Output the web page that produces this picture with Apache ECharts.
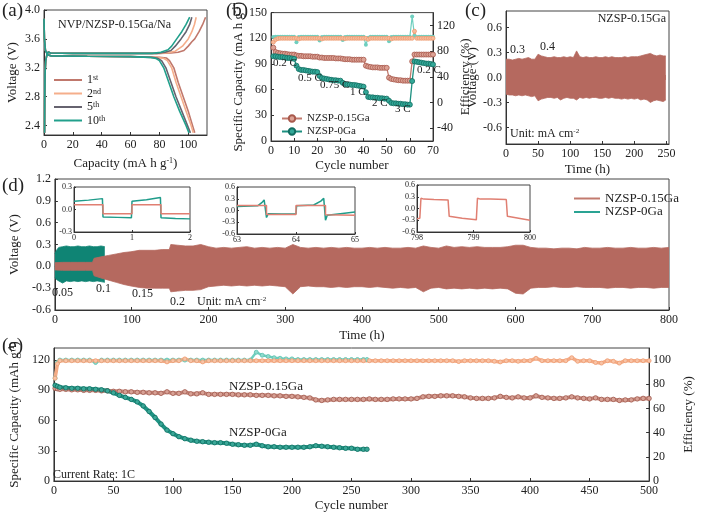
<!DOCTYPE html>
<html><head><meta charset="utf-8">
<script src="https://cdn.jsdelivr.net/npm/echarts@6/dist/echarts.min.js"></script>
<style>html,body{margin:0;padding:0;background:#fff}#c{width:703px;height:513px}</style>
</head><body><div id="c"></div>
<script>
// ---------- (a) charge/discharge profiles [capacity, voltage] ----------
const a1c = [[0.4,2.3],[0.5,2.75],[0.7,3.1],[1.2,3.3],[2,3.38],[3,3.42],[4.5,3.405],[20,3.4],[50,3.4],[80,3.4],[88,3.405],[93,3.415],[97,3.44],[100,3.5],[102.5,3.56],[104.5,3.6],[107.5,3.7],[110,3.8],[112,3.9]];
const a1d = [[0,3.88],[0.3,3.6],[1,3.44],[2.5,3.38],[5,3.365],[30,3.36],[60,3.355],[80,3.345],[85,3.335],[87,3.3],[90,3.2],[93,3.0],[96.5,2.8],[100,2.6],[103,2.4],[104.5,2.3]];
const a2c = [[0.4,2.3],[0.5,2.75],[0.7,3.1],[1.2,3.3],[2,3.38],[3,3.42],[4.5,3.405],[20,3.4],[50,3.4],[80,3.4],[86,3.41],[91,3.43],[96,3.5],[100,3.6],[102.5,3.7],[104.3,3.8],[105.5,3.9]];
const a2d = [[0,3.88],[0.3,3.6],[1,3.44],[2.5,3.38],[5,3.365],[30,3.36],[60,3.355],[78,3.345],[83,3.33],[85.5,3.3],[88.5,3.2],[91.5,3.0],[95,2.8],[98.5,2.6],[102,2.4],[103.5,2.3]];
const a5c = [[0.4,2.3],[0.5,2.75],[0.7,3.1],[1.2,3.3],[2,3.38],[3,3.42],[4.5,3.405],[20,3.4],[50,3.4],[78,3.4],[84,3.415],[88,3.44],[91,3.5],[95,3.6],[98.5,3.7],[101,3.8],[102.5,3.9]];
const a5d = [[0,3.88],[0.3,3.6],[1,3.44],[2.5,3.38],[5,3.365],[30,3.36],[60,3.355],[75,3.345],[79,3.33],[81.5,3.3],[84.5,3.2],[88,3.0],[91.5,2.8],[95.5,2.6],[99.5,2.4],[101.5,2.3]];
const a10c = [[0.4,2.3],[0.5,2.75],[0.7,3.1],[1.2,3.3],[2,3.38],[3,3.42],[4.5,3.405],[20,3.4],[50,3.4],[75,3.4],[81,3.415],[86,3.45],[88.5,3.5],[92,3.6],[95.5,3.7],[98.5,3.8],[101,3.9]];
const a10d = [[0,3.88],[0.3,3.6],[1,3.44],[2.5,3.38],[5,3.365],[30,3.36],[60,3.355],[73,3.345],[77.5,3.33],[80,3.3],[83,3.2],[86.5,3.0],[90,2.8],[94,2.6],[98.5,2.4],[100.5,2.3]];
const aCycles = ['1st','2nd','5th','10th'];

// ---------- (b) rate performance ----------
const cycleB = Array.from({length:70},(_,i)=>i+1);
const capB015 = [109,104,103,102.5,102,102,101.5,101,101,101,
 100,99.5,99.5,99,99,99,99,98.5,98.5,98.5,
 97.5,97.5,97,97,97,97,97,96.5,96.5,96.5,
 96,95.5,95.5,95.5,95,95,95,95,95,95,
 88,87,86.5,86,86,86,85.5,85.5,85.5,85.5,
 74,72.5,72,71.5,71,71,70.5,70.5,70.5,70.5,
 93,101,101,101,101,101,101,101,101,101];
const capB0 = [99,99,98.5,98,98,97.5,97,97,96.5,96,
 88,84,83,83,82.5,82,81.5,81,81,80.5,
 76,73.5,73,72.5,72,71.5,71,71,70.5,70.5,
 68,66.5,66,66,65.5,65.5,65,64.5,64,63.5,
 57,51.5,51,51,50.5,50.5,50,50,49.5,49.5,
 47,44.5,44,44,43.5,43.5,43,43,42.5,42.5,
 70,93,92.5,92,91.5,91,90.5,90.5,90,89.5];
const effB015 = [94,98,99.5,100,100,100,100,100,100,100,
 100,99,100,100,100,100,100,100,100,100,
 100,99,100,100,100,100,100,100,100,100,
 100,99.5,100,100,100,100,100,100,100,100,
 100,98.5,100,100,100,100,100,100,100,100,
 100,99,100,100,100,100,100,100,100,100,
 100,111,100,100,100,100,100,100,100,100];
const effB0 = [102,102.5,102.5,102.5,102.5,102.5,102.5,102.5,102.5,102.5,
 94,102,102.5,102.5,102.5,102.5,102.5,102.5,102.5,102.5,
 96.5,102,102.5,102.5,102.5,102.5,102.5,102.5,102.5,102.5,
 97.5,102,102.5,102.5,102.5,102.5,102.5,102.5,102.5,102.5,
 90,101,102.5,102.5,102.5,102.5,102.5,102.5,102.5,102.5,
 95.5,102,102.5,102.5,102.5,102.5,102.5,102.5,102.5,102.5,
 134,104,102,102.5,102.5,102.5,102.5,102.5,102.5,102.5];
const rateLabels = ['0.2 C','0.5 C','0.75 C','1 C','2 C','3 C','0.2 C'];

// ---------- (c) symmetric cell envelope ----------
const timeC = [0,5,10,15,20,25,30,35,40,45,50,55,60,65,70,75,80,85,90,95,100,105,110,115,120,125,130,135,140,145,150,155,160,165,170,175,180,185,190,195,200,205,210,215,220,225,230,235,240,245,249];
const upC = [0.22,0.22,0.21,0.22,0.23,0.22,0.23,0.24,0.22,0.22,
 0.28,0.26,0.25,0.24,0.24,0.25,0.24,0.24,0.25,0.24,
 0.25,0.24,0.32,0.25,0.24,0.25,0.24,0.24,0.25,0.24,
 0.24,0.25,0.24,0.25,0.24,0.24,0.24,0.25,0.24,0.25,
 0.25,0.25,0.26,0.27,0.28,0.29,0.27,0.26,0.27,0.26,0.26];
const loC = [-0.20,-0.21,-0.21,-0.22,-0.21,-0.22,-0.21,-0.22,-0.23,-0.22,
 -0.28,-0.26,-0.25,-0.24,-0.24,-0.25,-0.24,-0.27,-0.25,-0.24,
 -0.25,-0.25,-0.27,-0.24,-0.25,-0.24,-0.25,-0.24,-0.24,-0.25,
 -0.25,-0.24,-0.25,-0.24,-0.25,-0.25,-0.26,-0.25,-0.26,-0.25,
 -0.26,-0.25,-0.27,-0.26,-0.27,-0.30,-0.28,-0.27,-0.28,-0.29,-0.27];

// ---------- (d) long-term cycling envelopes ----------
const timeD0 = [0,2,5,10,15,20,25,30,35,40,45,50,55,60,65];
const upD0 = [0.17,0.22,0.26,0.27,0.28,0.27,0.27,0.28,0.27,0.27,0.28,0.27,0.27,0.28,0.27];
const loD0 = [-0.15,-0.18,-0.2,-0.23,-0.2,-0.21,-0.2,-0.21,-0.2,-0.21,-0.2,-0.21,-0.2,-0.21,-0.22];
const timeD15 = [0,10,20,30,40,49,51,60,70,80,90,99,101,110,120,130,140,149,151,
 160,170,180,190,200,210,220,230,240,250,260,270,280,290,300,310,320,330,340,350,
 360,370,380,390,400,410,420,430,440,450,460,470,480,490,500,510,520,530,540,550,
 560,570,580,590,600,610,620,630,640,650,660,670,680,690,700,710,720,730,740,750,
 760,770,780,790,800];
const upD15 = [0.05,0.055,0.055,0.055,0.055,0.055,0.11,0.13,0.15,0.17,0.19,0.2,0.21,0.22,0.22,0.22,0.23,0.23,0.3,
 0.29,0.28,0.28,0.3,0.27,0.25,0.26,0.25,0.26,0.27,0.25,0.26,0.25,0.26,0.25,0.3,0.26,0.25,0.26,0.25,
 0.26,0.25,0.26,0.25,0.25,0.26,0.25,0.26,0.25,0.25,0.26,0.25,0.28,0.26,0.25,0.28,0.26,0.27,0.26,0.27,
 0.26,0.26,0.26,0.27,0.29,0.29,0.26,0.25,0.25,0.24,0.25,0.25,0.24,0.26,0.25,0.25,0.26,0.25,0.25,0.26,
 0.25,0.25,0.26,0.25,0.26];
const loD15 = [-0.05,-0.055,-0.055,-0.055,-0.055,-0.055,-0.13,-0.16,-0.19,-0.22,-0.25,-0.27,-0.28,-0.29,-0.3,-0.3,-0.3,-0.3,-0.35,
 -0.34,-0.33,-0.33,-0.32,-0.28,-0.27,-0.26,-0.27,-0.26,-0.27,-0.26,-0.27,-0.26,-0.27,-0.28,-0.38,-0.28,-0.27,-0.28,-0.28,
 -0.29,-0.28,-0.29,-0.28,-0.28,-0.29,-0.28,-0.29,-0.3,-0.29,-0.3,-0.29,-0.35,-0.3,-0.29,-0.31,-0.3,-0.31,-0.3,-0.31,
 -0.3,-0.31,-0.3,-0.31,-0.37,-0.38,-0.3,-0.29,-0.29,-0.28,-0.29,-0.29,-0.28,-0.29,-0.29,-0.29,-0.3,-0.29,-0.29,-0.3,
 -0.29,-0.29,-0.3,-0.29,-0.29];
const currentLabels = ['0.05','0.1','0.15','0.2'];
// insets [time, voltage]
const ins1T = [[0,0.11],[0.25,0.125],[0.49,0.145],[0.5,-0.1],[0.75,-0.105],[0.99,-0.11],[1,0.11],[1.25,0.13],[1.49,0.16],[1.5,-0.11],[1.75,-0.12],[2,-0.125]];
const ins1B = [[0,0.065],[0.5,0.065],[0.5,-0.055],[1,-0.055],[1,0.065],[1.5,0.065],[1.5,-0.055],[2,-0.055]];
const ins2T = [[63,0.1],[63.35,0.12],[63.42,0.2],[63.46,0.27],[63.49,0.25],[63.5,-0.18],[63.53,-0.08],[63.75,-0.09],[64,-0.08],[64.01,0.12],[64.3,0.14],[64.42,0.24],[64.47,0.31],[64.49,0.28],[64.5,-0.25],[64.53,-0.12],[64.75,-0.08],[65,-0.04]];
const ins2B = [[63,0.13],[63.5,0.13],[63.5,-0.1],[64,-0.1],[64,0.13],[64.5,0.13],[64.5,-0.11],[65,-0.12]];
const ins3B = [[798,-0.26],[798.05,-0.25],[798.07,0.26],[798.12,0.24],[798.3,0.23],[798.55,0.22],[798.57,-0.2],[798.8,-0.25],[799.05,-0.29],[799.07,0.26],[799.12,0.24],[799.3,0.24],[799.58,0.23],[799.6,-0.2],[799.8,-0.25],[800,-0.3]];

// ---------- (e) long cycling at 1C ----------
const cycE = [1,3].concat(Array.from({length:100},(_,i)=>5*(i+1)));
const capE015 = [92,91.5,91,91,90.5,90.5,90,90,90,89.5,
 89.5,89,89,88.5,88.5,88,88,87.5,87.5,87,
 88.5,87,87,88.5,86.5,86.5,87.5,86,86,86,
 86,86,85.5,85.5,85.5,85,85,85,84.5,84.5,
 84,84,83.5,83,82.5,80.5,80,80.5,81,81,
 81,81,81,81,81.5,81,81,81,81.5,81.5,
 81.5,81.5,82,83.5,84,84,84.5,84.5,84.5,84,
 83.5,82.5,82,82,82,82.5,84,83,82.5,83.5,
 82.5,82.5,84.5,83,82.5,82,82,82.5,83.5,82.5,
 82,81.5,82.5,81,81,81,80,80.5,80.5,81.5,
 82,82];
const effE015 = [85,97,99.5,99.5,99.5,99.5,99.5,99.5,99.5,99.5,
 99.5,99.5,99.5,99.5,99.5,99.5,99.5,99.5,99.5,99.5,
 98.5,99.5,99.5,101,99.5,99.5,98.5,99.5,99.5,99.5,
 99.5,99.5,99.5,99.5,99.5,99.5,99.5,99.5,99.5,99.5,
 99.5,99.5,99.5,99.5,99.5,99.5,99.5,99.5,99.5,99.5,
 99.5,99.5,99.5,99.5,99.5,99.5,99.5,99.5,99.5,99.5,
 99.5,99.5,99.5,99.5,99.5,99.5,99.5,99.5,99.5,98.8,
 99.5,99.5,99.5,99.5,99.5,99,98.5,99.5,99.5,99,
 99.5,99.5,101.5,99.5,99.5,99.5,99.5,99.5,102,99,
 99.5,99.5,98,97.5,99.5,99,97.5,99.5,99.5,99.5,
 99.5,99.5];
const cycE0 = [1,3].concat(Array.from({length:52},(_,i)=>5*(i+1))).concat([263]);
const capE0 = [95,94,93,92.5,92,92,91.5,91.5,91,90.5,
 89.5,87.5,85,83,81,78.5,74.5,69,63,56.5,
 50.5,47,44,42,40.5,39.5,39,38.5,38,38,
 37.5,36.5,36,35.5,35.5,36.5,35,34,34,33.5,
 33.5,33.5,33.5,33.5,34,35,34.5,34,33.5,33,
 32.5,32.5,31.5,31.5,31.5];
const effE0 = [85,98,100,100,100,100,100,100,98,100,
 100,100,100,100,100,100,100,100,100,100,
 100,100,100,100,100,100,100,100,100,100,
 100,100,100,100,100,106.5,104,103,102,101.5,
 101,101,100.5,100.5,100.5,100.5,100.5,100.5,100.5,100.5,
 100.5,100.5,100.5,100.5,100.5];

// ---------- styling ----------
const F = 'Liberation Serif';
const INK = '#222';
const C_BROWN = '#b5695f', C_ORANGE = '#f3a57e', C_LTEAL = '#6fcfbf', C_GRAY = '#66636f';
const SUP = { s: { fontSize: 8, verticalAlign: 'top', lineHeight: 9, fontFamily: F, color: INK } };
const pair = (xs, ys) => xs.map((x, i) => [x, ys[i]]);

function vAxis(o) {
  const base = {
    type: 'value', scale: false,
    axisLine: { show: true, onZero: false, lineStyle: { color: '#333', width: 1 } },
    axisTick: { show: true, inside: true, length: 3, lineStyle: { color: '#333' } },
    axisLabel: { color: INK, fontFamily: F, fontSize: 12, margin: 4 },
    splitLine: { show: false },
    nameLocation: 'middle',
    nameTextStyle: { fontFamily: F, fontSize: 13, color: INK, rich: SUP }
  };
  const r = Object.assign({}, base, o);
  r.axisLabel = Object.assign({}, base.axisLabel, o.axisLabel || {});
  r.axisTick = Object.assign({}, base.axisTick, o.axisTick || {});
  return r;
}
const f1 = v => v.toFixed(1);
const gridBox = (left, top, width, height) => ({ left, top, width, height, show: true, borderColor: '#444', borderWidth: 1, backgroundColor: '#fff' });

const grids = [
  gridBox(44, 10, 163, 125),     // 0 a
  gridBox(271, 9, 162, 132),     // 1 b
  gridBox(506, 11, 163, 133),    // 2 c
  gridBox(43, 179, 626, 131),    // 3 d
  gridBox(74, 187, 116, 45),     // 4 inset1
  gridBox(237, 187, 118, 47),    // 5 inset2
  gridBox(417, 185, 113, 47),    // 6 inset3
  gridBox(43, 348, 626, 134)     // 7 e
];
const insLab = { fontSize: 8, margin: 2 };
const xAxes = [
  vAxis({ gridIndex: 0, min: 0, max: 113, name: 'Capacity (mA h g{s|-1})', nameGap: 22, axisLabel: { customValues: [0,20,40,60,80,100] }, axisTick: { customValues: [0,20,40,60,80,100] } }),
  vAxis({ gridIndex: 1, min: 0, max: 70, interval: 10, name: 'Cycle number', nameGap: 18 }),
  vAxis({ gridIndex: 2, min: 0, max: 254, name: 'Time (h)', nameGap: 19, axisLabel: { customValues: [0,50,100,150,200,250] }, axisTick: { customValues: [0,50,100,150,200,250] } }),
  vAxis({ gridIndex: 3, min: 0, max: 800, interval: 100, name: 'Time (h)', nameGap: 19 }),
  vAxis({ gridIndex: 4, min: 0, max: 2, interval: 1, axisLabel: insLab, axisTick: { length: 2 } }),
  vAxis({ gridIndex: 5, min: 63, max: 65, interval: 1, axisLabel: insLab, axisTick: { length: 2 } }),
  vAxis({ gridIndex: 6, min: 798, max: 800, interval: 1, axisLabel: insLab, axisTick: { length: 2 } }),
  vAxis({ gridIndex: 7, min: 0, max: 500, interval: 50, name: 'Cycle number', nameGap: 18 })
];
const yAxes = [
  vAxis({ gridIndex: 0, min: 2.27, max: 4.0, name: 'Voltage (V)', nameGap: 25, axisLabel: { formatter: f1, customValues: [2.4,2.8,3.2,3.6,4.0] }, axisTick: { customValues: [2.4,2.8,3.2,3.6,4.0] } }),
  vAxis({ gridIndex: 1, min: 0, max: 150, interval: 30, name: 'Specific Capacity (mA h g{s|-1})', nameGap: 22 }),
  vAxis({ gridIndex: 1, position: 'right', min: -60, max: 140, name: 'Efficiency (%)', nameGap: 24, axisLabel: { customValues: [-40,0,40,80,120] }, axisTick: { customValues: [-40,0,40,80,120] } }),
  vAxis({ gridIndex: 2, min: -0.8, max: 0.8, name: 'Voltage (V)', nameGap: 22, axisLabel: { formatter: f1, customValues: [-0.6,-0.3,0,0.3,0.6] }, axisTick: { customValues: [-0.6,-0.3,0,0.3,0.6] } }),
  vAxis({ gridIndex: 3, min: -0.6, max: 1.2, interval: 0.3, name: 'Voltage (V)', nameGap: 24, axisLabel: { formatter: f1 } }),
  vAxis({ gridIndex: 4, min: -0.3, max: 0.3, interval: 0.3, axisLabel: Object.assign({ formatter: f1 }, insLab), axisTick: { length: 2 } }),
  vAxis({ gridIndex: 5, min: -0.6, max: 0.6, interval: 0.3, axisLabel: Object.assign({ formatter: f1 }, insLab), axisTick: { length: 2 } }),
  vAxis({ gridIndex: 6, min: -0.6, max: 0.6, interval: 0.3, axisLabel: Object.assign({ formatter: f1 }, insLab), axisTick: { length: 2 } }),
  vAxis({ gridIndex: 7, min: 0, max: 132, name: 'Specific Capacity (mAh g{s|-1})', nameGap: 22, axisLabel: { customValues: [0,30,60,90,120] }, axisTick: { customValues: [0,30,60,90,120] } }),
  vAxis({ gridIndex: 7, position: 'right', min: 0, max: 110, name: 'Efficiency (%)', nameGap: 23, axisLabel: { customValues: [0,20,40,60,80,100] }, axisTick: { customValues: [0,20,40,60,80,100] } })
];

const series = [];
// (a)
const aSets = [[a1c,a1d,'#c0786c'],[a2c,a2d,'#f5ae8b'],[a5c,a5d,C_GRAY],[a10c,a10d,'#22a08c']];
aSets.forEach((s, i) => {
  [s[0], s[1]].forEach(d => series.push({ type: 'line', name: aCycles[i], xAxisIndex: 0, yAxisIndex: 0, data: d, showSymbol: false, symbol: 'none', lineStyle: { color: s[2], width: 1.6 }, itemStyle: { color: s[2] }, z: 3 + i }));
});
// (b)
series.push({ type: 'line', name: 'effB0', xAxisIndex: 1, yAxisIndex: 2, data: pair(cycleB, effB0), symbol: 'circle', symbolSize: 4, lineStyle: { color: C_LTEAL, width: 1.2 }, itemStyle: { color: C_LTEAL } });
series.push({ type: 'line', name: 'effB015', xAxisIndex: 1, yAxisIndex: 2, data: pair(cycleB, effB015), symbol: 'circle', symbolSize: 4, lineStyle: { color: C_ORANGE, width: 1.2 }, itemStyle: { color: '#f7bb9c', borderColor: '#ee9a70', borderWidth: 0.8 } });
series.push({ type: 'line', name: 'NZSP-0.15Ga', xAxisIndex: 1, yAxisIndex: 1, data: pair(cycleB, capB015), symbol: 'circle', symbolSize: 5, lineStyle: { color: '#c27a6e', width: 1.3 }, itemStyle: { color: '#dca295', borderColor: '#a8594c', borderWidth: 0.8 } });
series.push({ type: 'line', name: 'NZSP-0Ga', xAxisIndex: 1, yAxisIndex: 1, data: pair(cycleB, capB0), symbol: 'circle', symbolSize: 5, lineStyle: { color: '#1d9080', width: 1.3 }, itemStyle: { color: '#33a898', borderColor: '#136e62', borderWidth: 0.8 } });
// envelope bands: upper and lower envelopes, each filled past the 0 V line (overlap hides the seam)
const band = (name, xi, yi, ts, up, lo, color) => {
  [['_hi', up, -0.03], ['_lo', lo, 0.03]].forEach(([suf, vals, org]) => series.push({
    type: 'line', name: name + suf, xAxisIndex: xi, yAxisIndex: yi, data: pair(ts, vals),
    showSymbol: false, symbol: 'none', lineStyle: { color, width: 0.8 }, areaStyle: { color, opacity: 1, origin: org }
  }));
};
band('c', 2, 3, timeC, upC, loC, C_BROWN);
band('d0', 3, 4, timeD0, upD0, loD0, '#0f8474');
band('d15', 3, 4, timeD15, upD15, loD15, C_BROWN);
series.push({ type: 'line', name: 'NZSP-0.15Ga ', xAxisIndex: 3, yAxisIndex: 4, data: [], lineStyle: { color: '#c27a6e', width: 2 }, itemStyle: { color: '#c27a6e' }, symbol: 'none' });
series.push({ type: 'line', name: 'NZSP-0Ga ', xAxisIndex: 3, yAxisIndex: 4, data: [], lineStyle: { color: '#2aa393', width: 2 }, itemStyle: { color: '#2aa393' }, symbol: 'none' });
// insets
const insLine = (xi, yi, d, color) => series.push({ type: 'line', name: 'ins' + xi + color, xAxisIndex: xi, yAxisIndex: yi, data: d, showSymbol: false, symbol: 'none', lineStyle: { color, width: 1.5 } });
insLine(4, 5, ins1T, '#1f9c8a'); insLine(4, 5, ins1B, '#e07f72');
insLine(5, 6, ins2T, '#1f9c8a'); insLine(5, 6, ins2B, '#e07f72');
insLine(6, 7, ins3B, '#e07f72');
// (e)
series.push({ type: 'line', name: 'effE0', xAxisIndex: 7, yAxisIndex: 9, data: pair(cycE0, effE0), symbol: 'circle', symbolSize: 4, lineStyle: { color: C_LTEAL, width: 2.5 }, itemStyle: { color: '#8edbcd', borderColor: '#5cc1b0', borderWidth: 0.8 } });
series.push({ type: 'line', name: 'effE015', xAxisIndex: 7, yAxisIndex: 9, data: pair(cycE, effE015), symbol: 'circle', symbolSize: 4, lineStyle: { color: '#f4ab85', width: 3.5 }, itemStyle: { color: '#f8c3a6', borderColor: '#ef9d72', borderWidth: 0.8 } });
series.push({ type: 'line', name: 'capE015', xAxisIndex: 7, yAxisIndex: 8, data: pair(cycE, capE015), symbol: 'circle', symbolSize: 4.5, lineStyle: { color: '#c68679', width: 4 }, itemStyle: { color: '#d8a195', borderColor: '#9f5a4f', borderWidth: 0.8 } });
series.push({ type: 'line', name: 'capE0', xAxisIndex: 7, yAxisIndex: 8, data: pair(cycE0, capE0), symbol: 'circle', symbolSize: 4.5, lineStyle: { color: '#1f9484', width: 4 }, itemStyle: { color: '#3aa898', borderColor: '#0f6c60', borderWidth: 0.8 } });

const legText = { fontFamily: F, fontSize: 12, color: INK };
const legends = [
  { data: aCycles, orient: 'vertical', left: 49, top: 69, icon: 'rect', itemWidth: 28, itemHeight: 2, itemGap: 1.5, selectedMode: false,
    textStyle: Object.assign({ rich: SUP }, legText), formatter: n => n.replace(/^(\d+)(\D+)$/, '$1{s|$2}') },
  { data: ['NZSP-0.15Ga','NZSP-0Ga'], orient: 'vertical', left: 276, top: 108, itemWidth: 20, itemHeight: 8, itemGap: 2, selectedMode: false,
    textStyle: Object.assign({}, legText, { fontSize: 11 }) },
  { data: ['NZSP-0.15Ga ','NZSP-0Ga '], orient: 'vertical', left: 569, top: 187, icon: 'rect', itemWidth: 26, itemHeight: 2, itemGap: 0.5, selectedMode: false,
    textStyle: Object.assign({}, legText, { fontSize: 13 }) }
];

const T = (x, y, text, size, align) => ({ type: 'text', x, y, silent: true, z: 100,
  style: { text, fontFamily: F, fontSize: size, fill: INK, align: align || 'left', verticalAlign: 'middle',
    rich: { s: { fontSize: Math.round(size * 0.62), verticalAlign: 'top', lineHeight: size * 0.75, fontFamily: F, fill: INK } } } });
const graphics = [
  T(2, 11, '(a)', 19), T(226, 11, '(b)', 19), T(465, 11, '(c)', 19), T(2, 186, '(d)', 19), T(2, 346, '(e)', 19),
  T(58, 25, 'NVP/NZSP-0.15Ga/Na', 12),
  T(273, 63, rateLabels[0], 11), T(298, 78, rateLabels[1], 11), T(320, 85, rateLabels[2], 11), T(350, 92, rateLabels[3], 11),
  T(372, 103, rateLabels[4], 11), T(395, 109, rateLabels[5], 11), T(417, 70, rateLabels[6], 11),
  T(666, 19, 'NZSP-0.15Ga', 12, 'right'), T(510, 50, '0.3', 12), T(540, 47, '0.4', 12), T(510, 134, 'Unit: mA cm{s|-2}', 12),
  T(52, 293, currentLabels[0], 12), T(96, 289, currentLabels[1], 12), T(132, 294, currentLabels[2], 12), T(170, 302, currentLabels[3], 12),
  T(197, 302, 'Unit: mA cm{s|-2}', 12),
  T(229, 387, 'NZSP-0.15Ga', 13), T(229, 433, 'NZSP-0Ga', 13), T(53, 475, 'Current Rate: 1C', 12)
];

const chart = echarts.init(document.getElementById('c'), null, { renderer: 'canvas' });
chart.setOption({
  animation: false,
  backgroundColor: '#fff',
  textStyle: { fontFamily: F },
  grid: grids, xAxis: xAxes, yAxis: yAxes, series, legend: legends, graphic: graphics
});
</script></body></html>
